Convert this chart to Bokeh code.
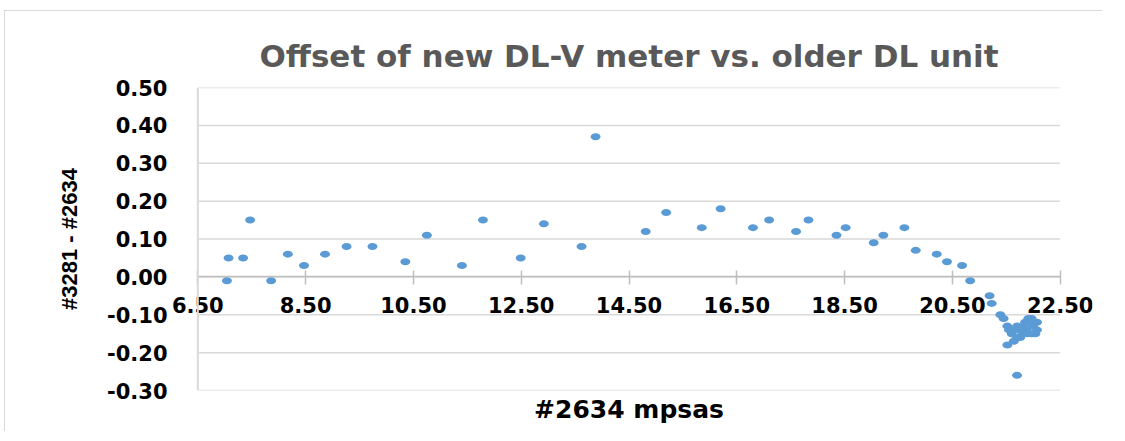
from bokeh.plotting import figure
from bokeh.models import FixedTicker, NumeralTickFormatter, Title, ColumnDataSource, Span
from bokeh.embed import file_html
from bokeh.resources import INLINE

# ---- data ----
mpsas_2634 = [7.04, 7.07, 7.34, 7.47, 7.86, 8.17, 8.47, 8.86, 9.26, 9.74,
              10.35, 10.75, 11.40, 11.79, 12.49, 12.92, 13.62, 13.88, 14.81, 15.19,
              15.85, 16.20, 16.80, 17.10, 17.60, 17.83, 18.35, 18.52, 19.04, 19.22,
              19.61, 19.82, 20.21, 20.40, 20.68, 20.83, 21.19, 21.23, 21.39, 21.45,
              21.52, 21.55, 21.60, 21.64, 21.52, 21.70, 21.70, 21.76, 21.76, 21.82,
              21.85, 21.88, 21.91, 21.94, 21.97, 22.00, 22.04, 22.07, 22.07, 21.97,
              21.66, 21.80, 21.90, 22.02, 21.70]
offset_3281_2634 = [-0.01, 0.05, 0.05, 0.15, -0.01, 0.06, 0.03, 0.06, 0.08, 0.08,
                    0.04, 0.11, 0.03, 0.15, 0.05, 0.14, 0.08, 0.37, 0.12, 0.17,
                    0.13, 0.18, 0.13, 0.15, 0.12, 0.15, 0.11, 0.13, 0.09, 0.11,
                    0.13, 0.07, 0.06, 0.04, 0.03, -0.01, -0.05, -0.07, -0.10, -0.11,
                    -0.13, -0.14, -0.15, -0.17, -0.18, -0.13, -0.16, -0.14, -0.16, -0.13,
                    -0.12, -0.14, -0.11, -0.12, -0.15, -0.13, -0.15, -0.14, -0.12, -0.11,
                    -0.14, -0.15, -0.15, -0.12, -0.26]
x_ticks = [6.5, 8.5, 10.5, 12.5, 14.5, 16.5, 18.5, 20.5, 22.5]
y_ticks = [-0.3, -0.2, -0.1, 0.0, 0.1, 0.2, 0.3, 0.4, 0.5]
x_min, x_max = 6.5, 22.5
y_min, y_max = -0.3, 0.5

title_text = "Offset of new DL-V meter vs. older DL unit"
x_title = "#2634 mpsas"
y_title = "#3281 - #2634"

src = ColumnDataSource(data=dict(x=mpsas_2634, y=offset_3281_2634))
grid_src = ColumnDataSource(data=dict(y=y_ticks, x0=[x_min] * len(y_ticks), x1=[x_max] * len(y_ticks)))

# frame widened a little so the end tick labels of the in-plot x axis are not clipped
p = figure(frame_width=927, frame_height=303,
           x_range=(x_min - 0.6, x_max + 0.6), y_range=(y_min, y_max),
           min_border_left=160, min_border_right=10, min_border_top=76, min_border_bottom=41,
           output_backend="svg", toolbar_location=None)
p.styles = {"margin-left": "4px", "margin-top": "10px",
            "border-top": "1px solid #d9d9d9", "border-left": "1px solid #d9d9d9"}

p.outline_line_color = None
p.background_fill_color = "white"
p.border_fill_color = "white"

# title
p.title.text = title_text
p.title.align = "center"
p.title.text_font = "DejaVu Sans"
p.title.text_font_style = "bold"
p.title.text_font_size = "31px"
p.title.text_color = "#595959"
p.title.standoff = 27

# horizontal gridlines between 6.50 and 22.50
p.xgrid.grid_line_color = None
p.ygrid.grid_line_color = None
p.segment(x0="x0", x1="x1", y0="y", y1="y", source=grid_src, line_color="#d9d9d9", line_width=1.5)

# vertical axis line at 6.50
p.add_layout(Span(location=x_min, dimension="height", line_color="#d9d9d9", line_width=2))

# x axis crossing at y = 0
xa = p.xaxis[0]
xa.fixed_location = 0
xa.bounds = (x_min, x_max)
xa.ticker = FixedTicker(ticks=x_ticks)
xa.formatter = NumeralTickFormatter(format="0.00")
xa.axis_line_color = "#bfbfbf"
xa.axis_line_width = 1.5
xa.major_tick_line_color = "#bfbfbf"
xa.major_tick_line_width = 1.5
xa.major_tick_in = 6
xa.major_tick_out = 8
xa.minor_tick_line_color = None
xa.major_label_text_font = "DejaVu Sans"
xa.major_label_text_font_style = "bold"
xa.major_label_text_font_size = "21px"
xa.major_label_text_color = "#000000"
xa.major_label_standoff = 12

p.add_layout(Title(text=x_title, align="center", text_font="DejaVu Sans",
                   text_font_style="bold", text_font_size="25px",
                   text_color="#000000", standoff=5), "below")

# y axis
ya = p.yaxis[0]
ya.ticker = FixedTicker(ticks=y_ticks)
ya.formatter = NumeralTickFormatter(format="0.00")
ya.axis_line_color = None
ya.major_tick_line_color = None
ya.minor_tick_line_color = None
ya.major_tick_in = 0
ya.major_tick_out = 0
ya.major_label_text_font = "DejaVu Sans"
ya.major_label_text_font_style = "bold"
ya.major_label_text_font_size = "21px"
ya.major_label_text_color = "#000000"
ya.major_label_standoff = -2
ya.axis_label = y_title
ya.axis_label_text_font = "Liberation Sans"
ya.axis_label_text_font_style = "bold"
ya.axis_label_text_font_size = "22px"
ya.axis_label_text_color = "#000000"
ya.axis_label_standoff = 22

p.ellipse(x="x", y="y", width=10, height=7, width_units="screen", height_units="screen",
          fill_color="#5b9bd5", line_color=None, source=src)

open("out.html", "w").write(file_html(p, INLINE))
